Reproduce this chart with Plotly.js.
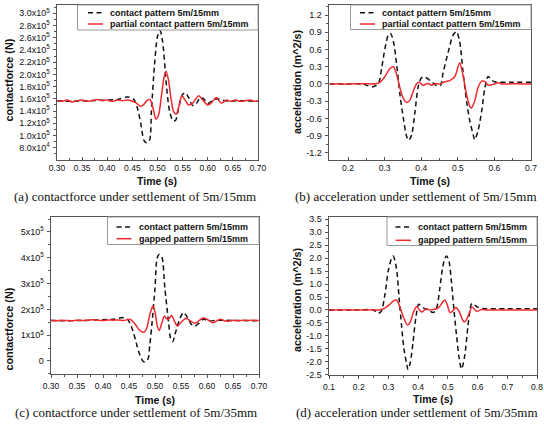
<!DOCTYPE html>
<html><head><meta charset="utf-8">
<script src="https://cdn.plot.ly/plotly-3.0.1.min.js"></script>
<style>html,body{margin:0;padding:0;background:#fff}#chart{width:544px;height:424px}</style>
</head><body><div id="chart"></div>
<script>
// ---------- DATA ----------
// (a) contact force, settlement 5m/15mm
const aContactT = [0.30,0.33,0.36,0.40,0.42,0.44,0.452,0.46,0.467,0.473,0.478,0.484,0.488,0.494,0.500,0.505,0.510,0.518,0.524,0.531,0.536,0.542,0.549,0.555,0.562,0.570,0.577,0.585,0.592,0.600,0.610,0.62,0.64,0.66,0.70];
const aContactF = [1.57e5,1.56e5,1.57e5,1.58e5,1.59e5,1.63e5,1.60e5,1.45e5,1.18e5,9.2e4,8.8e4,9.2e4,1.42e5,2.15e5,2.62e5,2.72e5,2.55e5,1.80e5,1.40e5,1.24e5,1.25e5,1.45e5,1.66e5,1.70e5,1.62e5,1.49e5,1.52e5,1.62e5,1.60e5,1.52e5,1.58e5,1.60e5,1.56e5,1.57e5,1.56e5];
const aPartialT = [0.30,0.31,0.32,0.33,0.34,0.35,0.36,0.37,0.38,0.39,0.40,0.41,0.42,0.43,0.44,0.45,0.458,0.466,0.472,0.479,0.485,0.491,0.497,0.502,0.508,0.513,0.517,0.522,0.527,0.532,0.537,0.542,0.546,0.549,0.555,0.562,0.570,0.576,0.582,0.590,0.600,0.608,0.617,0.627,0.637,0.645,0.655,0.665,0.675,0.685,0.695,0.70];
const aPartialF = [1.57e5,1.56e5,1.58e5,1.55e5,1.57e5,1.58e5,1.56e5,1.57e5,1.59e5,1.57e5,1.58e5,1.56e5,1.58e5,1.57e5,1.58e5,1.56e5,1.53e5,1.48e5,1.50e5,1.57e5,1.59e5,1.45e5,1.27e5,1.33e5,1.66e5,1.95e5,2.05e5,1.90e5,1.60e5,1.39e5,1.35e5,1.45e5,1.60e5,1.65e5,1.58e5,1.50e5,1.53e5,1.60e5,1.65e5,1.58e5,1.50e5,1.54e5,1.62e5,1.53e5,1.58e5,1.56e5,1.58e5,1.56e5,1.57e5,1.58e5,1.56e5,1.57e5];

// (b) acceleration, settlement 5m/15mm
const bContactT = [0.15,0.20,0.24,0.255,0.268,0.278,0.285,0.292,0.301,0.310,0.316,0.324,0.333,0.342,0.351,0.360,0.366,0.374,0.383,0.392,0.401,0.41,0.42,0.43,0.44,0.452,0.460,0.474,0.487,0.496,0.505,0.514,0.524,0.533,0.542,0.546,0.555,0.565,0.574,0.583,0.592,0.60,0.65,0.70];
const bContactA = [0,0,0,-0.03,-0.05,-0.02,0.04,0.28,0.62,0.85,0.88,0.74,0.33,-0.19,-0.59,-0.91,-0.98,-0.88,-0.48,-0.04,0.11,0.12,0.08,0.03,-0.02,-0.03,0.20,0.56,0.85,0.91,0.74,0.22,-0.30,-0.65,-0.88,-0.97,-0.82,-0.48,-0.07,0.13,0.07,0.04,0.03,0.03];
const bPartialT = [0.15,0.17,0.19,0.21,0.23,0.25,0.265,0.278,0.287,0.301,0.3145,0.324,0.333,0.342,0.351,0.360,0.369,0.378,0.387,0.394,0.405,0.419,0.428,0.44,0.45,0.465,0.478,0.492,0.505,0.514,0.524,0.533,0.537,0.546,0.555,0.565,0.574,0.583,0.60,0.61,0.62,0.65,0.70];
const bPartialA = [0,0.005,-0.005,0.005,0,0.005,0,0.01,0.03,0.13,0.27,0.30,0.16,-0.07,-0.25,-0.32,-0.28,-0.13,0.0,0.03,-0.02,0.01,-0.02,0.01,0.0,0.04,0.06,0.13,0.37,0.16,-0.19,-0.39,-0.42,-0.30,-0.07,0.05,0.04,-0.02,0.0,0.02,0.0,0.005,0];

// (c) contact force, settlement 5m/35mm
const cContactT = [0.30,0.33,0.36,0.40,0.42,0.439,0.447,0.452,0.458,0.465,0.471,0.478,0.484,0.487,0.490,0.494,0.500,0.504,0.508,0.513,0.519,0.526,0.530,0.534,0.540,0.548,0.555,0.562,0.570,0.577,0.585,0.593,0.605,0.62,0.65,0.70];
const cContactF = [1.57e5,1.56e5,1.57e5,1.60e5,1.62e5,1.68e5,1.62e5,1.46e5,1.14e5,0.62e5,0.23e5,-0.03e5,0.0,0.1e5,0.62e5,1.40e5,2.82e5,3.98e5,4.13e5,4.04e5,2.82e5,1.52e5,0.88e5,0.75e5,1.14e5,1.65e5,1.88e5,1.70e5,1.42e5,1.35e5,1.48e5,1.62e5,1.55e5,1.58e5,1.57e5,1.56e5];
const cGappedT = [0.30,0.31,0.32,0.33,0.34,0.35,0.36,0.37,0.38,0.39,0.40,0.41,0.42,0.43,0.44,0.452,0.462,0.470,0.478,0.484,0.490,0.496,0.500,0.504,0.508,0.513,0.518,0.522,0.526,0.532,0.538,0.543,0.551,0.560,0.568,0.577,0.592,0.600,0.612,0.625,0.637,0.65,0.66,0.67,0.68,0.69,0.70];
const cGappedF = [1.58e5,1.56e5,1.58e5,1.57e5,1.56e5,1.58e5,1.57e5,1.58e5,1.60e5,1.58e5,1.57e5,1.59e5,1.58e5,1.59e5,1.57e5,1.62e5,1.42e5,1.20e5,1.11e5,1.27e5,1.79e5,2.14e5,1.91e5,1.40e5,1.18e5,1.46e5,1.74e5,1.64e5,1.62e5,1.76e5,1.52e5,1.35e5,1.52e5,1.66e5,1.55e5,1.46e5,1.67e5,1.62e5,1.48e5,1.62e5,1.54e5,1.58e5,1.56e5,1.58e5,1.57e5,1.58e5,1.57e5];

// (d) acceleration, settlement 5m/35mm
const dContactT = [0.10,0.20,0.25,0.265,0.276,0.288,0.299,0.310,0.316,0.327,0.336,0.344,0.352,0.361,0.366,0.374,0.383,0.392,0.402,0.417,0.434,0.451,0.462,0.473,0.482,0.490,0.496,0.504,0.512,0.520,0.529,0.538,0.546,0.557,0.568,0.578,0.583,0.597,0.619,0.70,0.80];
const dContactA = [0,0,0,-0.13,-0.05,0.58,1.48,1.98,2.08,1.61,0.45,-0.58,-1.48,-2.06,-2.30,-2.00,-1.22,-0.32,0.22,0.08,0.0,-0.10,0.07,0.84,1.61,1.99,2.08,1.87,1.09,0.07,-0.96,-1.86,-2.28,-1.74,-0.58,0.19,0.26,0.13,0.06,0.05,0.05];
const dGappedT = [0.10,0.15,0.20,0.25,0.27,0.288,0.305,0.318,0.328,0.338,0.352,0.364,0.374,0.385,0.396,0.403,0.412,0.427,0.44,0.45,0.467,0.482,0.490,0.498,0.507,0.516,0.527,0.538,0.550,0.555,0.565,0.574,0.581,0.597,0.614,0.63,0.70,0.80];
const dGappedA = [0,0.005,0,0.005,0,0.07,0.22,0.36,0.38,0.13,-0.32,-0.58,-0.45,-0.06,0.13,0.02,-0.08,0.05,0.0,0.02,0.07,0.30,0.39,0.20,-0.10,-0.04,0.10,-0.05,-0.39,-0.46,-0.32,-0.06,0.12,-0.05,0.02,0,0,0];

// tick labels
const aYTickVals = [8e4,1.0e5,1.2e5,1.4e5,1.6e5,1.8e5,2.0e5,2.2e5,2.4e5,2.6e5,2.8e5,3.0e5];
const aYTickText = ['8.0x10<sup>4</sup>','1.0x10<sup>5</sup>','1.2x10<sup>5</sup>','1.4x10<sup>5</sup>','1.6x10<sup>5</sup>','1.8x10<sup>5</sup>','2.0x10<sup>5</sup>','2.2x10<sup>5</sup>','2.4x10<sup>5</sup>','2.6x10<sup>5</sup>','2.8x10<sup>5</sup>','3.0x10<sup>5</sup>'];
const cYTickVals = [0,1e5,2e5,3e5,4e5,5e5];
const cYTickText = ['0','1x10<sup>5</sup>','2x10<sup>5</sup>','3x10<sup>5</sup>','4x10<sup>5</sup>','5x10<sup>5</sup>'];
const acXTickVals = [0.30,0.35,0.40,0.45,0.50,0.55,0.60,0.65,0.70];
const acXTickText = ['0.30','0.35','0.40','0.45','0.50','0.55','0.60','0.65','0.70'];
const bXTickVals = [0.2,0.3,0.4,0.5,0.6,0.7];
const bXTickText = ['0.2','0.3','0.4','0.5','0.6','0.7'];
const dXTickVals = [0.1,0.2,0.3,0.4,0.5,0.6,0.7,0.8];
const dXTickText = ['0.1','0.2','0.3','0.4','0.5','0.6','0.7','0.8'];
const bYTickVals = [-1.2,-0.9,-0.6,-0.3,0,0.3,0.6,0.9,1.2];
const bYTickText = ['-1.2','-0.9','-0.6','-0.3','0.0','0.3','0.6','0.9','1.2'];
const dYTickVals = [-2.5,-2.0,-1.5,-1.0,-0.5,0,0.5,1.0,1.5,2.0,2.5,3.0,3.5];
const dYTickText = ['-2.5','-2.0','-1.5','-1.0','-0.5','0.0','0.5','1.0','1.5','2.0','2.5','3.0','3.5'];

const legendContact = 'contact pattern 5m/15mm';
const legendPartial = 'partial contact pattern 5m/15mm';
const legendGapped = 'gapped pattern 5m/15mm';
const xTitle = 'Time (s)';
const yTitleForce = 'contactforce (N)';
const yTitleAcc = 'acceleration (m^2/s)';
const captions = ['(a) contactforce under settlement of 5m/15mm','(b) acceleration under settlement of 5m/15mm','(c) contactforce under settlement of 5m/35mm','(d) acceleration under settlement of 5m/35mm'];

// ---------- STYLE / LAYOUT ----------
const W = 544, H = 424;
const px = x => x / W, py = y => 1 - y / H;
const SANS = 'Liberation Sans, Arial, sans-serif';
const SERIF = 'Liberation Serif, Times New Roman, serif';
const RED = '#ee2a2f', BLK = '#111111', AXC = '#555555';
const dashLine = {color: BLK, width: 1.5, dash: '5px,3.5px'};
const redLine = {color: RED, width: 1.5};

function tr(x, y, name, line, xa, ya) {
  return {x, y, name, type: 'scatter', mode: 'lines', line: Object.assign({shape: 'spline', smoothing: 0.8}, line), xaxis: xa, yaxis: ya, showlegend: false, hoverinfo: 'skip'};
}
const data = [
  tr(aContactT, aContactF, legendContact, dashLine, 'x', 'y'),
  tr(aPartialT, aPartialF, legendPartial, redLine, 'x', 'y'),
  tr(bContactT, bContactA, legendContact, dashLine, 'x2', 'y2'),
  tr(bPartialT, bPartialA, legendPartial, redLine, 'x2', 'y2'),
  tr(cContactT, cContactF, legendContact, dashLine, 'x3', 'y3'),
  tr(cGappedT, cGappedF, legendGapped, redLine, 'x3', 'y3'),
  tr(dContactT, dContactA, legendContact, dashLine, 'x4', 'y4'),
  tr(dGappedT, dGappedA, legendGapped, redLine, 'x4', 'y4')
];

const xTickFont = {family: SANS, size: 8.5, color: '#111'};
const yTickFont = {family: SANS, size: 9, color: '#111'};
function base(domain, range, vals, text, minor0, minorStep, tickdir) {
  return {
    domain, range, showline: true, mirror: true, linecolor: AXC, linewidth: 1,
    tickwidth: 1, tickcolor: AXC, showgrid: false, zeroline: false, fixedrange: true,
    tickmode: 'array', tickvals: vals, ticktext: text,
    minor: {ticks: tickdir, ticklen: 2, tickcolor: AXC, tick0: minor0, dtick: minorStep}
  };
}
function xax(domain, range, vals, text, m0, ms, anchor, tickdir, standoff) {
  return Object.assign(base(domain, range, vals, text, m0, ms, tickdir), {anchor, ticks: tickdir, ticklen: 3, tickfont: xTickFont, ticklabelstandoff: standoff});
}
function yax(domain, range, vals, text, m0, ms, anchor) {
  return Object.assign(base(domain, range, vals, text, m0, ms, 'outside'), {anchor, ticks: 'outside', ticklen: 3.5, tickfont: yTickFont, ticklabelstandoff: 1});
}
const layout = {
  width: W, height: H, margin: {l: 0, r: 0, t: 0, b: 0},
  paper_bgcolor: '#fff', plot_bgcolor: '#fff', showlegend: false,
  xaxis:  xax([px(57), px(258)], [0.30, 0.70], acXTickVals, acXTickText, 0.325, 0.05, 'y', 'inside', 0),
  yaxis:  yax([py(160), py(5)], [5.99e4, 3.136e5], aYTickVals, aYTickText, 7e4, 2e4, 'x'),
  xaxis2: xax([px(329), px(531)], [0.148, 0.70], bXTickVals, bXTickText, 0.15, 0.1, 'y2', 'inside', 0),
  yaxis2: yax([py(160), py(5)], [-1.322, 1.374], bYTickVals, bYTickText, -1.35, 0.3, 'x2'),
  xaxis3: xax([px(51), px(259)], [0.30, 0.70], acXTickVals, acXTickText, 0.325, 0.05, 'y3', 'outside', 1),
  yaxis3: yax([py(374), py(217)], [-0.504e5, 5.58e5], cYTickVals, cYTickText, -0.5e5, 1e5, 'x3'),
  xaxis4: xax([px(329), px(537)], [0.10, 0.80], dXTickVals, dXTickText, 0.15, 0.1, 'y4', 'outside', 1),
  yaxis4: yax([py(375), py(217)], [-2.51, 3.59], dYTickVals, dYTickText, -2.25, 0.5, 'x4'),
  shapes: [], annotations: []
};

function txt(x, y, text, font, opts) {
  layout.annotations.push(Object.assign({xref: 'paper', yref: 'paper', x: px(x), y: py(y), text, showarrow: false, font,
    xanchor: 'center', yanchor: 'middle'}, opts || {}));
}
const titleFont = {family: SANS, size: 10.5, color: '#111', weight: 'bold'};
const ytitleFont = {family: SANS, size: 10.8, color: '#111', weight: 'bold'};
const capFont = {family: SERIF, size: 13, color: '#111'};
txt(157, 180.5, xTitle, titleFont);
txt(430, 180.5, xTitle, titleFont);
txt(155, 399.5, xTitle, titleFont);
txt(433, 398.5, xTitle, titleFont);
txt(8.5, 80, yTitleForce, ytitleFont, {textangle: -90});
txt(297, 82, yTitleAcc, ytitleFont, {textangle: -90});
txt(8.5, 329, yTitleForce, ytitleFont, {textangle: -90});
txt(297, 300, yTitleAcc, ytitleFont, {textangle: -90});
txt(135, 196.5, captions[0], capFont);
txt(416, 196.5, captions[1], capFont);
txt(136, 412, captions[2], capFont);
txt(417, 412, captions[3], capFont);

// legends (box + line samples + labels)
const legFont = {family: SANS, size: 9, color: '#111', weight: 'bold'};
function legend(x0, y0, x1, y1, sx0, sx1, tx, ly1, ly2, name2) {
  layout.shapes.push({type: 'rect', xref: 'paper', yref: 'paper', x0: px(x0), x1: px(x1), y0: py(y1), y1: py(y0),
    line: {color: '#999', width: 1}, fillcolor: '#fff', layer: 'above'});
  layout.shapes.push({type: 'line', xref: 'paper', yref: 'paper', x0: px(sx0), x1: px(sx1), y0: py(ly1), y1: py(ly1), line: dashLine, layer: 'above'});
  layout.shapes.push({type: 'line', xref: 'paper', yref: 'paper', x0: px(sx0), x1: px(sx1), y0: py(ly2), y1: py(ly2), line: redLine, layer: 'above'});
  txt(tx, ly1, legendContact, legFont, {xanchor: 'left'});
  txt(tx, ly2, name2, legFont, {xanchor: 'left'});
}
legend(77.5, 5, 258, 30, 88, 103, 108, 12.7, 24, legendPartial);
legend(350.5, 5, 531, 29.5, 360, 375, 380, 12.7, 24, legendPartial);
legend(107.5, 217, 259, 244.5, 116.5, 131.5, 137, 227, 238.7, legendGapped);
legend(387, 217, 537, 245.5, 395.5, 411, 416, 227, 240.3, legendGapped);

Plotly.newPlot('chart', data, layout, {staticPlot: true, displayModeBar: false});
</script></body></html>
